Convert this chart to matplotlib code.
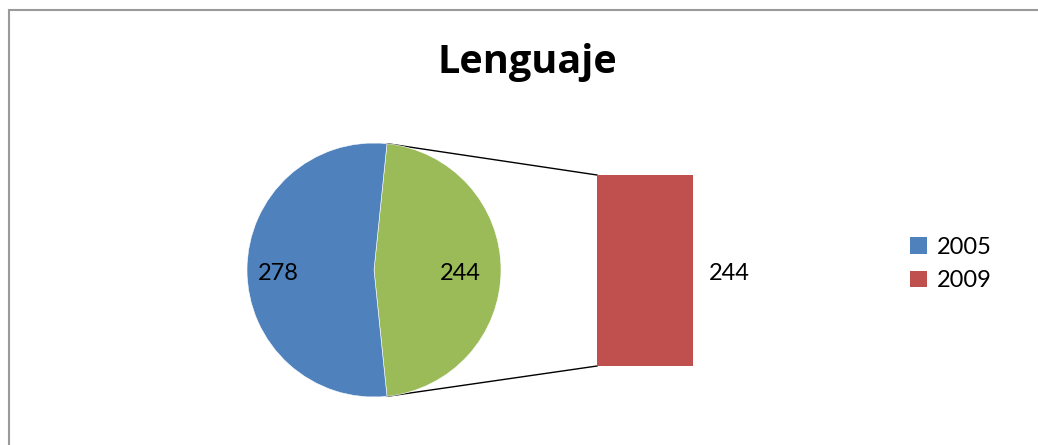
import matplotlib
matplotlib.use('Agg')
import matplotlib.pyplot as plt
from matplotlib.patches import Patch, Rectangle
from matplotlib.lines import Line2D
import numpy as np

# ---- data ----
title = "Lenguaje"
years = ["2005", "2009"]
values = [278, 244]
other_label_value = values[1]          # the "other" slice holds the 2009 value

# ---- style ----
plt.rcParams['font.family'] = ['Lato', 'DejaVu Sans']
BLUE, GREEN, RED = "#4F81BD", "#9BBB59", "#C0504D"
W, H = 1038, 445

fig = plt.figure(figsize=(W / 100, H / 100), dpi=100)
ax = fig.add_axes([0, 0, 1, 1])

# pie: green "other" slice centred on the right, blue slice on the left
total = sum(values)
other = other_label_value
start = -other / total * 180.0
pie_center = (374, H - 270)
pie_r = 127
wedges, _ = ax.pie([other, values[0]], colors=[GREEN, BLUE], startangle=start,
                   counterclock=True, center=pie_center, radius=pie_r,
                   wedgeprops=dict(edgecolor='white', linewidth=0.4), frame=False)
for w in wedges:
    w.set_zorder(3)

ax.set_xlim(0, W)
ax.set_ylim(0, H)
ax.set_aspect('auto')
ax.axis('off')

# bar of the split-off slice, in its own axes
bx0, by_top, bw, bh = 597, 175, 96, 191
bax = fig.add_axes([bx0 / W, (H - by_top - bh) / H, bw / W, bh / H])
bax.bar([0], [values[1]], width=1.0, color=RED)
bax.set_xlim(-0.5, 0.5)
bax.set_ylim(0, values[1])
bax.axis('off')

# connector lines from slice edges to bar corners
g = wedges[0]
for ang, by in [(g.theta2, H - by_top), (g.theta1, H - by_top - bh)]:
    px = pie_center[0] + pie_r * np.cos(np.radians(ang))
    py = pie_center[1] + pie_r * np.sin(np.radians(ang))
    ax.add_line(Line2D([px, bx0], [py, by], color='black', lw=1.0, zorder=2))

# data labels
lab_fs = 17
ax.text(278, H - 273, str(values[0]), ha='center', va='center', fontsize=lab_fs, zorder=5)
ax.text(460, H - 273, str(other), ha='center', va='center', fontsize=lab_fs, zorder=5)
ax.text(729, H - 273, str(values[1]), ha='center', va='center', fontsize=lab_fs, zorder=5)

# title
ax.text(527, H - 73, title, ha='center', va='baseline', fontsize=28.5, fontweight='bold',
        family=['Open Sans', 'DejaVu Sans'])

# legend
handles = [Patch(facecolor=BLUE, edgecolor='none'), Patch(facecolor=RED, edgecolor='none')]
ax.legend(handles, years, loc='upper left', bbox_to_anchor=(910 / W, 1 - 237 / H),
          frameon=False, fontsize=lab_fs, handlelength=0.72, handleheight=0.72,
          handletextpad=0.4, labelspacing=0.52, borderpad=0, borderaxespad=0)

# chart-area border (clipped by the image on the right and bottom)
fig.patches.append(Rectangle((9 / W, -0.1), 1.2, 1 - 10 / H + 0.1, transform=fig.transFigure,
                             fill=False, edgecolor='#9A9A9A', linewidth=1.5))

fig.savefig('out.png', dpi=100)
